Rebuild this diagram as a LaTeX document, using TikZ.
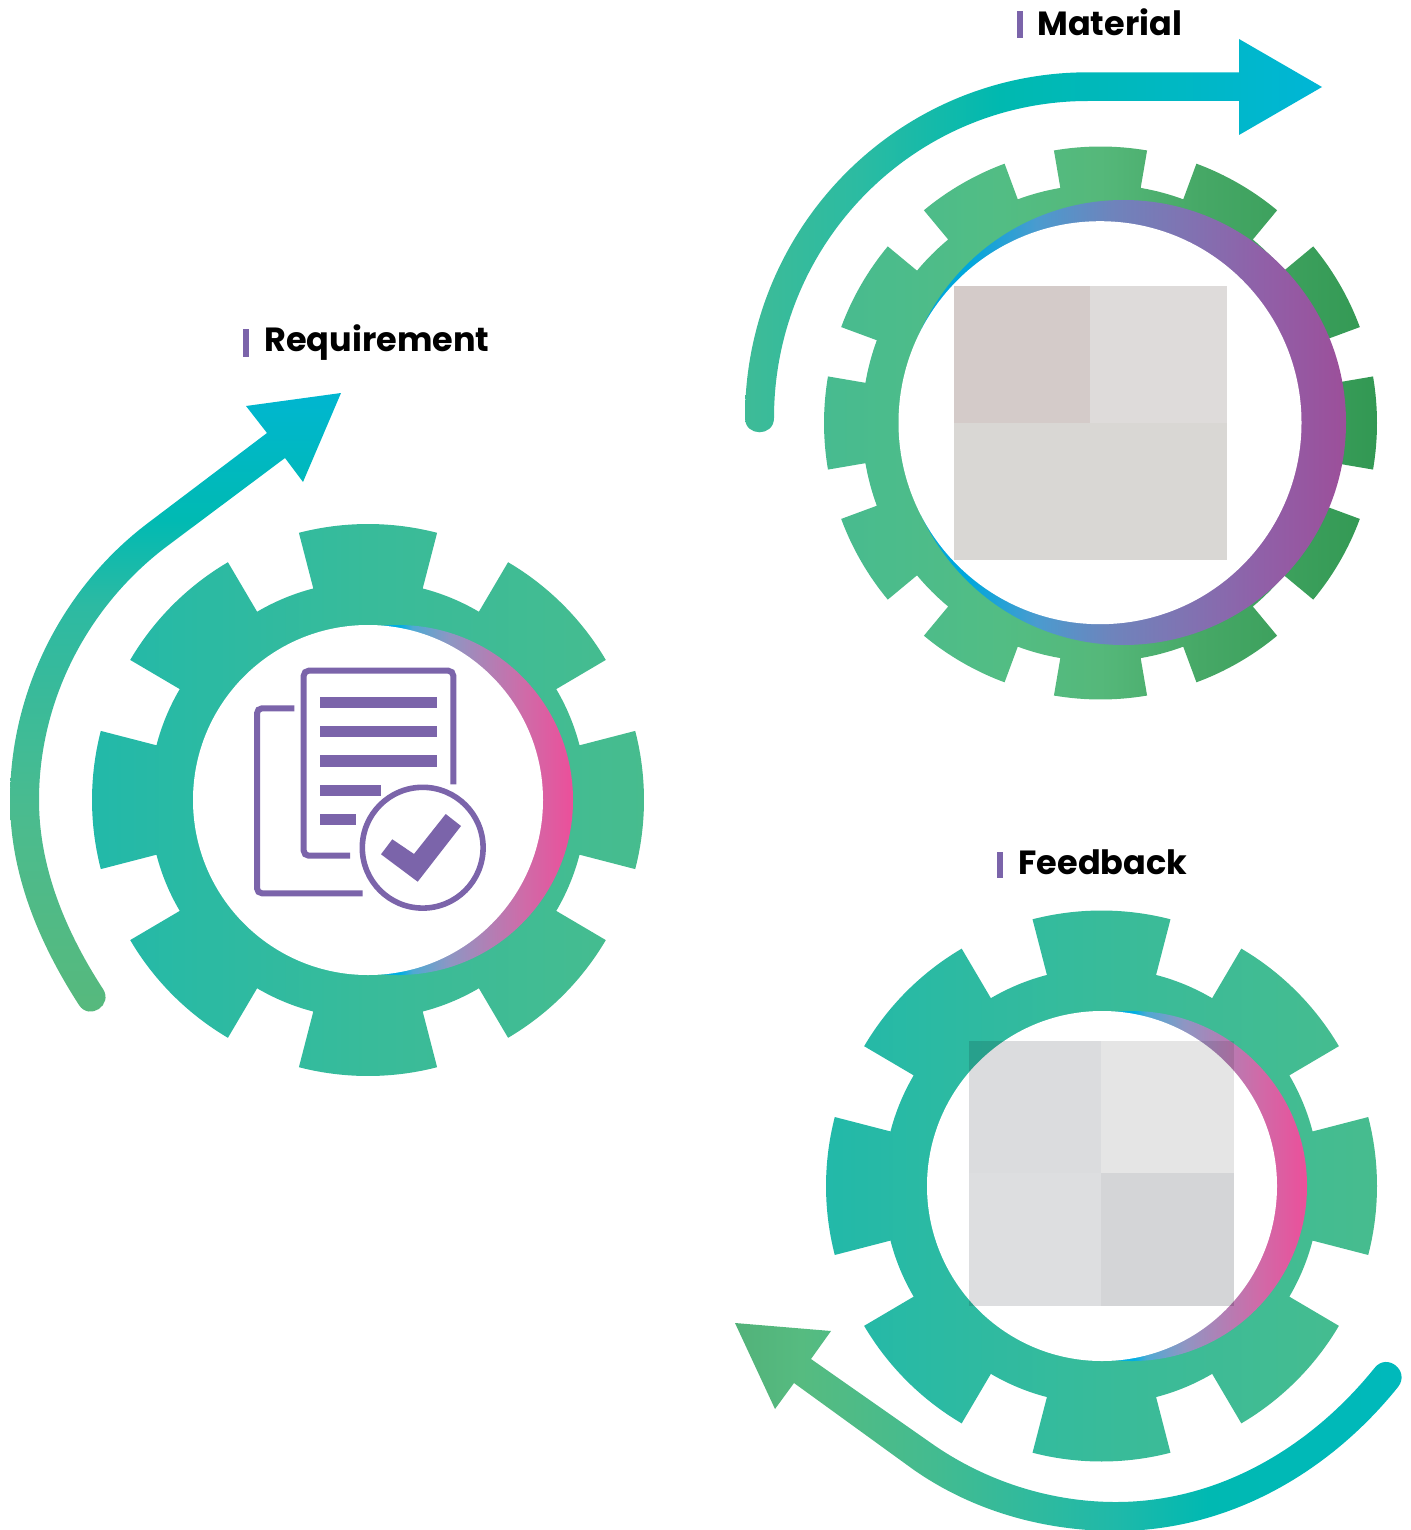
\documentclass[tikz,border=0pt]{standalone}
\usepackage{fontspec}
\usetikzlibrary{calc}
\newfontfamily\labelfont{Poppins}
\definecolor{violet}{HTML}{7B64AA}
% gear colours
\definecolor{gA}{HTML}{22B9A9}\definecolor{gB}{HTML}{38BB9A}\definecolor{gC}{HTML}{47BC8E}
\definecolor{mA}{HTML}{47BB90}\definecolor{mB}{HTML}{52BD84}\definecolor{mC}{HTML}{55B87A}\definecolor{mD}{HTML}{46A866}\definecolor{mE}{HTML}{329853}
% crescent colours
\definecolor{cA}{HTML}{00AEE2}\definecolor{cB}{HTML}{4FA9D3}\definecolor{cC}{HTML}{8E96C3}\definecolor{cD}{HTML}{B080B5}\definecolor{cF}{HTML}{CF6BA8}\definecolor{cE}{HTML}{EC4F9A}
\definecolor{dA}{HTML}{00A7DC}\definecolor{dB}{HTML}{4A9BCF}\definecolor{dC}{HTML}{6E84BC}\definecolor{dD}{HTML}{8073B2}\definecolor{dF}{HTML}{9060A8}\definecolor{dE}{HTML}{9C4F9A}
% arrow colours
\definecolor{aA}{HTML}{57B97C}\definecolor{aB}{HTML}{4BBB8E}\definecolor{aC}{HTML}{2DBAA2}\definecolor{aD}{HTML}{00BAB3}\definecolor{aE}{HTML}{00B6D0}
\definecolor{bA}{HTML}{3EBB97}\definecolor{bB}{HTML}{2BBBA2}\definecolor{bC}{HTML}{00B9B0}\definecolor{bD}{HTML}{00B8C0}\definecolor{bE}{HTML}{00B6D6}
\definecolor{eA}{HTML}{52B27A}\definecolor{eB}{HTML}{56BB80}\definecolor{eC}{HTML}{43BB90}\definecolor{eD}{HTML}{1FB9A9}\definecolor{eE}{HTML}{00B9B2}\definecolor{eF}{HTML}{00B9BC}
% square colours
\definecolor{sA}{HTML}{D4CBC9}\definecolor{sB}{HTML}{DEDBDA}\definecolor{sC}{HTML}{D9D7D4}
\definecolor{tA}{HTML}{DBDCDE}\definecolor{tB}{HTML}{E5E5E5}\definecolor{tC}{HTML}{DDDEE0}\definecolor{tD}{HTML}{D4D5D7}
\pgfdeclarehorizontalshading{gearteal}{100bp}{color(0bp)=(gA); color(25bp)=(gA); color(50bp)=(gB); color(75bp)=(gC); color(100bp)=(gC)}
\pgfdeclarehorizontalshading{gearmoss}{100bp}{color(0bp)=(mA); color(25bp)=(mA); color(41bp)=(mB); color(50bp)=(mC); color(59bp)=(mD); color(75bp)=(mE); color(100bp)=(mE)}
\pgfdeclarehorizontalshading{crescpink}{100bp}{color(0bp)=(cA); color(50.3bp)=(cA); color(52.1bp)=(cB); color(57.4bp)=(cC); color(62.7bp)=(cD); color(68bp)=(cF); color(75bp)=(cE); color(100bp)=(cE)}
\pgfdeclarehorizontalshading{crescviolet}{100bp}{color(0bp)=(dA); color(32.5bp)=(dA); color(40.2bp)=(dB); color(48.6bp)=(dC); color(57bp)=(dD); color(65.4bp)=(dF); color(75bp)=(dE); color(100bp)=(dE)}
\pgfdeclareverticalshading{arrowreq}{100bp}{color(0bp)=(aA); color(25bp)=(aA); color(41bp)=(aB); color(58bp)=(aC); color(65bp)=(aD); color(75bp)=(aE); color(100bp)=(aE)}
\pgfdeclarehorizontalshading{arrowmat}{100bp}{color(0bp)=(bA); color(25bp)=(bA); color(35bp)=(bB); color(47.1bp)=(bC); color(60.1bp)=(bD); color(75bp)=(bE); color(100bp)=(bE)}
\pgfdeclarehorizontalshading{arrowfee}{100bp}{color(0bp)=(eA); color(25bp)=(eA); color(29.9bp)=(eB); color(39.7bp)=(eC); color(53.2bp)=(eD); color(60bp)=(eE); color(75bp)=(eF); color(100bp)=(eF)}
\tikzset{
  labeltext/.style={anchor=base west,inner sep=0pt,font=\labelfont\bfseries\fontsize{16.75}{20}\selectfont,text=black},
  labelbar/.style={fill=violet},
  docline/.style={draw=violet,line width=3pt,rounded corners=2.5pt},
  docrow/.style={fill=violet},
  squarepart/.style={blend mode=multiply}
}
\begin{document}
\begin{tikzpicture}[x=0.5pt,y=0.5pt,yscale=-1]
\useasboundingbox (0,0) rectangle (1410,1530);

% ---------- Requirement gear ----------
\shade[shading=gearteal] ($(368,800)+(-14.5:276)$)
  \foreach \a in {0,45,...,315}{
    -- ($(368,800)+(\a-14.5:276)$) arc[start angle=\a-14.5,end angle=\a+14.5,radius=276]
    -- ($(368,800)+(\a+14.5:218.5)$) arc[start angle=\a+14.5,end angle=\a+30.5,radius=218.5]
  } -- cycle;
\shade[shading=crescpink] (398,800) circle[radius=175];
\fill[white] (368,800) circle[radius=175];

% ---------- Material gear ----------
\shade[shading=gearmoss] ($(1100.5,423)+(-9.7:276.5)$)
  \foreach \a in {0,30,...,330}{
    -- ($(1100.5,423)+(\a-9.7:276.5)$) arc[start angle=\a-9.7,end angle=\a+9.7,radius=276.5]
    -- ($(1100.5,423)+(\a+9.7:238.5)$) arc[start angle=\a+9.7,end angle=\a+20.3,radius=238.5]
  } -- cycle;
\shade[shading=crescviolet] (1123.5,422.5) circle[radius=222.5];
\fill[white] (1100,422.7) circle[radius=201.5];
\fill[sA,squarepart] (954,286) rectangle (1090,423);
\fill[sB,squarepart] (1090,286) rectangle (1227,423);
\fill[sC,squarepart] (954,423) rectangle (1227,560);

% ---------- Feedback gear ----------
\shade[shading=gearteal] ($(1101.5,1186)+(-14.5:275.5)$)
  \foreach \a in {0,45,...,315}{
    -- ($(1101.5,1186)+(\a-14.5:275.5)$) arc[start angle=\a-14.5,end angle=\a+14.5,radius=275.5]
    -- ($(1101.5,1186)+(\a+14.5:218)$) arc[start angle=\a+14.5,end angle=\a+30.5,radius=218]
  } -- cycle;
\shade[shading=crescpink] (1132,1186) circle[radius=175];
\fill[white] (1102,1186) circle[radius=175];
\fill[tA,squarepart] (969,1041) rectangle (1100.5,1173);
\fill[tB,squarepart] (1100.5,1041) rectangle (1234,1173);
\fill[tC,squarepart] (969,1173) rectangle (1100.5,1306);
\fill[tD,squarepart] (1100.5,1173) rectangle (1234,1306);

% ---------- Document icon ----------
\draw[docline] (350,855.7) -- (303.7,855.7) -- (303.7,670.7) -- (453.3,670.7) -- (453.3,784.3);
\draw[docline] (294.3,708.3) -- (257,708.3) -- (257,893.3) -- (362.7,893.3);
\fill[docrow] (320,697) rectangle (437,708);
\fill[docrow] (320,726) rectangle (437,737);
\fill[docrow] (320,755) rectangle (437,767);
\fill[docrow] (320,785) rectangle (381,796);
\fill[docrow] (320,814) rectangle (356,825);
\draw[draw=violet,line width=2.8pt] (422.7,847.7) circle[radius=60.4];
\fill[violet] (445.7,814) -- (461,826) -- (417.7,881.7) -- (381,854.3) -- (392.3,839.3) -- (414,854) -- cycle;

% ---------- Arrows ----------
\shade[shading=arrowreq] (341,393) -- (246,406) -- (267,433) -- (148,523)
  .. controls (62,588) and (10,692) .. (10,800)
  .. controls (10,874) and (39,943) .. (79,1005)
  .. controls (89.4,1021) and (113.4,1005) .. (103,989)
  .. controls (66,932) and (39,868) .. (39,800)
  .. controls (39,701) and (87,607) .. (166,547)
  -- (285,458) -- (303,482) -- cycle;

\shade[shading=arrowmat] (1322,87) -- (1239,39) -- (1239,72.3) -- (1088,72.3)
  .. controls (898.3,72.3) and (745,227) .. (745,418)
  .. controls (745,437) and (774,437) .. (774,418)
  .. controls (774,243) and (914,101) .. (1088,101)
  -- (1239,101) -- (1239,135) -- cycle;

\shade[shading=arrowfee] (735,1323) -- (831,1331) -- (811,1359) -- (931,1443)
  .. controls (985,1481) and (1050,1502) .. (1116,1502)
  .. controls (1218,1502) and (1310,1448) .. (1374.5,1368)
  .. controls (1387,1352) and (1410.6,1371) .. (1398,1387)
  .. controls (1328,1474) and (1227,1531) .. (1116,1531)
  .. controls (1044,1531) and (973,1511) .. (914,1470)
  -- (794,1383) -- (775,1409) -- cycle;

% ---------- Labels ----------
\fill[labelbar] (243,329) rectangle (249,357);
\node[labeltext] (requirement) at (264,351) {Requirement};
\fill[labelbar] (1017,11) rectangle (1023,38);
\node[labeltext] (material) at (1037,35.5) {Material};
\fill[labelbar] (997,852) rectangle (1003,878);
\node[labeltext] (feedback) at (1018,874.5) {Feedback};
\end{tikzpicture}
\end{document}
